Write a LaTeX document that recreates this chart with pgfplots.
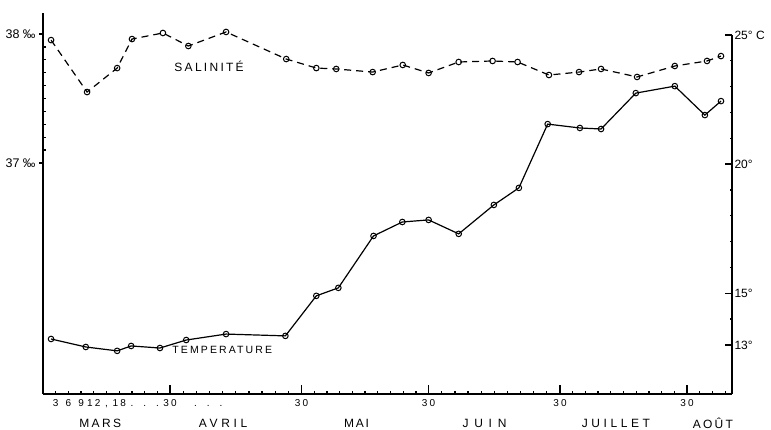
\documentclass[border=0pt]{standalone}
\usepackage{fontspec}
\setmainfont{Liberation Sans}
\usepackage{pgfplots}
\pgfplotsset{compat=1.18}
\usepackage{pgfplotstable}

\pgfplotstableread{
x s
1.9 37.953
10.4 37.550
17.5 37.736
21.0 37.961
28.3 38.008
34.3 37.907
43.2 38.016
57.4 37.806
64.5 37.736
69.2 37.729
77.8 37.705
84.9 37.760
91.0 37.698
98.1 37.783
106.1 37.791
112.0 37.783
119.4 37.682
126.5 37.705
131.7 37.729
140.2 37.667
149.1 37.752
156.7 37.791
160.0 37.829
}\salinity

\pgfplotstableread{
x t
1.9 13.23
10.1 12.92
17.5 12.77
20.8 12.96
27.6 12.88
33.8 13.19
43.2 13.42
57.2 13.35
64.5 14.90
69.7 15.21
78.0 17.22
84.8 17.76
91.0 17.84
98.1 17.30
106.4 18.42
112.3 19.08
119.1 21.55
126.7 21.40
131.7 21.36
139.9 22.75
149.1 23.02
156.2 21.90
160.0 22.44
}\temperature

\begin{document}
\begin{tikzpicture}
\path[use as bounding box] (0,0) rectangle (771pt,430pt);
\begin{axis}[
  at={(43pt,36pt)}, anchor=south west, scale only axis,
  width=689pt, height=381pt,
  xmin=0, xmax=162.6, ymin=35.209, ymax=38.163,
  axis x line*=bottom, axis y line*=left,
  axis line style={line width=1.2pt},
  tick style={black, line width=1.3pt},
  tick align=inside,
  xtick={30,61,91,122,152}, xticklabels={30,30,30,30,30},
  major tick length=9pt,
  minor xtick={3,6,9,12,15,18,21,24,27,33.1,36.2,39.3,42.4,45.5,48.6,51.7,54.8,57.9,64,67,70,73,76,79,82,85,88,94.1,97.2,100.3,103.4,106.5,109.6,112.7,115.8,118.9,125,128,131,134,137,140,143,146,149,155,158,161},
  minor tick length=2.5pt,
  extra x ticks={3,6,9,12,15,18,21,24,27,36,39,42},
  extra x tick labels={3,6,9,12,{,},18,.,.,.,.,.,.},
  extra x tick style={major tick length=0pt},
  xticklabel style={font=\fontsize{10}{12}\selectfont\addfontfeature{LetterSpace=22}, text height=7.5pt, text depth=0pt, yshift=-1pt},
  ytick=\empty,
  minor ytick={37.1,37.2,37.3,37.4,37.5,37.6,37.7,37.8,37.9},
  extra y ticks={37,38}, extra y tick labels={37 ‰,38 ‰},
  extra y tick style={tick align=outside, major tick length=4pt},
  yticklabel style={font=\fontsize{12.5}{14}\selectfont},
  clip=false,
]
\addplot[black, line width=1.2pt, dash pattern=on 7pt off 5pt,
  mark=o, mark size=2.8pt, mark options={solid, fill=white, line width=1pt}]
  table[x=x, y=s] {\salinity};
% axis tick marks
\pgfplotsinvokeforeach{30,61,91,122,152}{\draw[line width=1.3pt] (axis cs:#1,35.209) -- ++(0pt,9pt);}
\pgfplotsinvokeforeach{3,6,9,12,15,18,21,24,27,33.1,36.2,39.3,42.4,45.5,48.6,51.7,54.8,57.9,64,67,70,73,76,79,82,85,88,94.1,97.2,100.3,103.4,106.5,109.6,112.7,115.8,118.9,125,128,131,134,137,140,143,146,149,155,158,161}{\draw[line width=1.3pt] (axis cs:#1,35.209) -- ++(0pt,2.5pt);}
\pgfplotsinvokeforeach{37.1,37.2,37.3,37.4,37.5,37.6,37.7,37.8,37.9}{\draw[line width=1.3pt] (axis cs:0,#1) -- ++(2.5pt,0pt);}
\pgfplotsinvokeforeach{37,38}{\draw[line width=1.3pt] (axis cs:0,#1) -- ++(-4pt,0pt);}
\node[font=\fontsize{12}{14}\selectfont\addfontfeature{LetterSpace=19}] at (axis cs:39.2,37.752) {SALINITÉ};
\node[font=\fontsize{12}{14}\selectfont\addfontfeature{LetterSpace=20}, yshift=-29.5pt] at (axis cs:13.5,35.209) {MARS};
\node[font=\fontsize{12}{14}\selectfont\addfontfeature{LetterSpace=30}, yshift=-29.5pt] at (axis cs:42.5,35.209) {AVRIL};
\node[font=\fontsize{12}{14}\selectfont\addfontfeature{LetterSpace=15}, yshift=-29.5pt] at (axis cs:74.0,35.209) {MAI};
\node[font=\fontsize{12}{14}\selectfont\addfontfeature{LetterSpace=48}, yshift=-29.5pt] at (axis cs:104.2,35.209) {JUIN};
\node[font=\fontsize{12}{14}\selectfont\addfontfeature{LetterSpace=30}, yshift=-29.5pt] at (axis cs:135.2,35.209) {JUILLET};
\node[font=\fontsize{12}{14}\selectfont\addfontfeature{LetterSpace=19}, yshift=-29.5pt] at (axis cs:158.1,35.209) {AOÛT};
\end{axis}

\begin{axis}[
  at={(43pt,36pt)}, anchor=south west, scale only axis,
  width=689pt, height=359pt,
  xmin=0, xmax=162.6, ymin=11.10, ymax=25,
  axis x line=none, axis y line*=right,
  axis line style={line width=1.2pt},
  tick style={black, line width=1.3pt},
  tick align=inside,
  major tick length=7pt, minor tick length=2.5pt,
  ytick={13,15,20,25}, yticklabels={13°,15°,20°,25° C},
  minor ytick={14,16,17,18,19,21,22,23,24},
  yticklabel style={font=\fontsize{12}{14}\selectfont, xshift=-1pt},
  clip=false,
]
\addplot[black, line width=1.2pt,
  mark=o, mark size=2.8pt, mark options={solid, fill=white, line width=1pt}]
  table[x=x, y=t] {\temperature};
\pgfplotsinvokeforeach{13,15,20,25}{\draw[line width=1.3pt] (axis cs:162.6,#1) -- ++(-7pt,0pt);}
\pgfplotsinvokeforeach{14,16,17,18,19,21,22,23,24}{\draw[line width=1.3pt] (axis cs:162.6,#1) -- ++(-2.5pt,0pt);}
\node[font=\fontsize{10.5}{12}\selectfont\addfontfeature{LetterSpace=20}] at (axis cs:42.3,12.79) {TEMPERATURE};
\end{axis}
\end{tikzpicture}
\end{document}
